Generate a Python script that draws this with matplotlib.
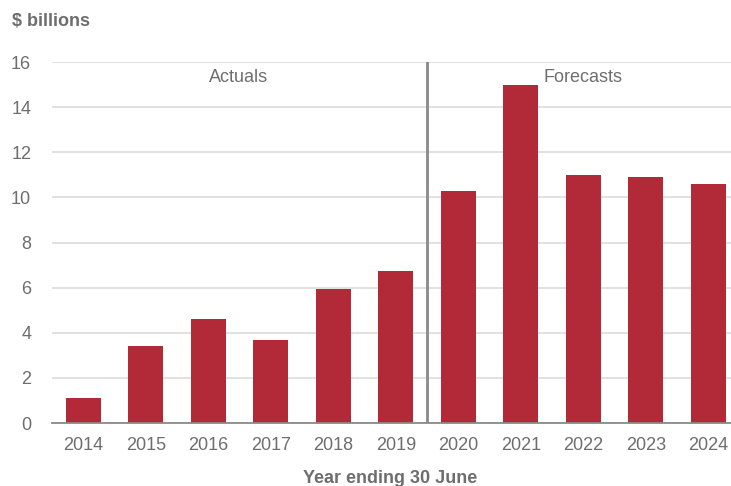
import matplotlib.pyplot as plt
import numpy as np

plt.rcParams['font.family'] = ['Liberation Sans', 'DejaVu Sans']

years = ['2014', '2015', '2016', '2017', '2018', '2019',
         '2020', '2021', '2022', '2023', '2024']
values = [1.1, 3.4, 4.6, 3.7, 5.95, 6.75, 10.3, 15.0, 11.0, 10.9, 10.6]
yticks = [0, 2, 4, 6, 8, 10, 12, 14, 16]

bar_color = '#b22a38'
text_color = '#6e6e6e'

fig = plt.figure(figsize=(7.31, 4.86), dpi=100)
ax = fig.add_axes([0.0711, 0.1296, 0.9289, 0.7428])

x = np.arange(len(years))
ax.bar(x, values, width=0.56, color=bar_color, zorder=3)

ax.set_xlim(-0.5, 10.36)
ax.set_ylim(0, 16)
ax.set_yticks(yticks)
ax.set_xticks(x)
ax.set_xticklabels(years)

ax.grid(axis='y', color='#dcdcdc', linewidth=1.2, zorder=0)
for s in ['top', 'right', 'left']:
    ax.spines[s].set_visible(False)
ax.spines['bottom'].set_color('#8a8a8a')
ax.spines['bottom'].set_linewidth(1.3)
ax.spines['bottom'].set_zorder(4)

ax.tick_params(axis='both', length=0, labelsize=13, labelcolor=text_color)
ax.tick_params(axis='x', pad=10)
ax.tick_params(axis='y', pad=15)

# divider between actuals and forecasts
ax.axvline(5.5, color='#8a8a8a', linewidth=2, zorder=4)
ax.text(2.48, 15.3, 'Actuals', ha='center', va='center', fontsize=13, color=text_color)
ax.text(8.0, 15.3, 'Forecasts', ha='center', va='center', fontsize=13, color=text_color)

fig.text(12 / 731, 1 - 22 / 486, '$ billions', ha='left', va='center',
         fontsize=13, fontweight='bold', color=text_color)
fig.text(390 / 731, 1 - 478 / 486, 'Year ending 30 June', ha='center', va='center',
         fontsize=13, fontweight='bold', color=text_color)

fig.savefig('out.png', dpi=100)
